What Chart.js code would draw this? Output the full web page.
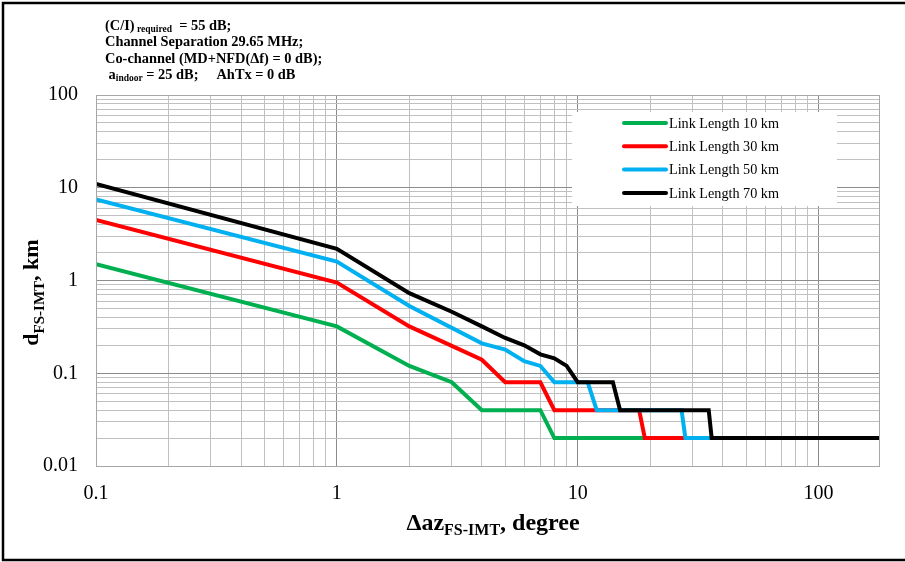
<!DOCTYPE html>
<html>
<head>
<meta charset="utf-8">
<script src="https://cdn.jsdelivr.net/npm/chart.js@4/dist/chart.umd.min.js"></script>
<style>
  html, body { margin: 0; padding: 0; background: #ffffff; }
  #wrap { width: 905px; height: 562px; position: relative; }
</style>
</head>
<body>
<div id="wrap"><canvas id="c" width="905" height="562"></canvas></div>
<script>
// ---- Data ----
const seriesLabels = ['Link Length 10 km', 'Link Length 30 km', 'Link Length 50 km', 'Link Length 70 km'];
const seriesColors = ['#00b050', '#ff0000', '#00b0f0', '#000000'];

const link10X = [0.1, 1, 2, 3, 4, 7, 8, 180];
const link10Y = [1.5, 0.32, 0.12, 0.08, 0.04, 0.04, 0.02, 0.02];

const link30X = [0.1, 1, 2, 4, 5, 7, 8, 18, 19, 180];
const link30Y = [4.5, 0.95, 0.32, 0.14, 0.08, 0.08, 0.04, 0.04, 0.02, 0.02];

const link50X = [0.1, 1, 2, 4, 5, 6, 7, 8, 11, 12, 27, 28, 180];
const link50Y = [7.5, 1.6, 0.53, 0.21, 0.18, 0.135, 0.12, 0.08, 0.08, 0.04, 0.04, 0.02, 0.02];

const link70X = [0.1, 1, 2, 3, 4, 5, 6, 7, 8, 9, 10, 14, 15, 35, 36, 180];
const link70Y = [11, 2.2, 0.73, 0.46, 0.32, 0.24, 0.2, 0.16, 0.145, 0.12, 0.08, 0.08, 0.04, 0.04, 0.02, 0.02];

const xTickLabels = ['0.1', '1', '10', '100'];
const xTickValues = [0.1, 1, 10, 100];
const yTickLabels = ['0.01', '0.1', '1', '10', '100'];
const yTickValues = [0.01, 0.1, 1, 10, 100];
const xMin = 0.1, xMax = 180, yMin = 0.01, yMax = 100;

const noteLines = [
  [{t: '(C/I)', s: 'n'}, {t: ' required', s: 'sub'}, {t: '  = 55 dB;', s: 'n'}],
  [{t: 'Channel Separation 29.65 MHz;', s: 'n'}],
  [{t: 'Co-channel (MD+NFD(\u0394f) = 0 dB);', s: 'n'}],
  [{t: ' a', s: 'n'}, {t: 'indoor', s: 'sub'}, {t: ' = 25 dB;     AhTx = 0 dB', s: 'n'}]
];
const xTitleParts = [{t: '\u0394az', s: 'n'}, {t: 'FS-IMT', s: 'sub'}, {t: ', degree', s: 'n'}];
const yTitleParts = [{t: 'd', s: 'n'}, {t: 'FS-IMT', s: 'sub'}, {t: ', km', s: 'n'}];

// ---- helpers ----
const SERIF = '"Liberation Serif", "Times New Roman", Times, serif';
function toPts(xs, ys) { return xs.map((x, i) => ({x: x, y: ys[i]})); }
function near(v, arr) { return arr.findIndex(a => Math.abs(Math.log10(v) - Math.log10(a)) < 1e-6); }
function buildLogTicks(min, maxDecadeValue) {
  const out = [];
  for (let d = min; d < maxDecadeValue * 0.999; d *= 10) {
    for (let m = 1; m <= 9; m++) out.push({value: +(m * d).toPrecision(6)});
  }
  out.push({value: maxDecadeValue});
  return out;
}

const xs = [link10X, link30X, link50X, link70X];
const ys = [link10Y, link30Y, link50Y, link70Y];
const datasets = seriesLabels.map((lab, i) => ({
  label: lab,
  data: toPts(xs[i], ys[i]),
  borderColor: seriesColors[i],
  backgroundColor: seriesColors[i],
  borderWidth: 4,
  pointRadius: 0,
  tension: 0,
  fill: false,
  order: 3 - i
}));

function drawRich(ctx, parts, x, y, mainFont, subFont, subDy, align) {
  let total = 0;
  const widths = parts.map(p => { ctx.font = p.s === 'sub' ? subFont : mainFont; const w = ctx.measureText(p.t).width; total += w; return w; });
  let cx = align === 'center' ? x - total / 2 : x;
  ctx.textAlign = 'left';
  ctx.textBaseline = 'alphabetic';
  parts.forEach((p, i) => {
    ctx.font = p.s === 'sub' ? subFont : mainFont;
    ctx.fillText(p.t, cx, p.s === 'sub' ? y + subDy : y);
    cx += widths[i];
  });
}

const decorPlugin = {
  id: 'decor',
  beforeDraw(chart) {
    const ctx = chart.ctx;
    ctx.save();
    ctx.fillStyle = '#ffffff';
    ctx.fillRect(0, 0, chart.width, chart.height);
    ctx.restore();
  },
  afterDatasetsDraw(chart) {
    const ctx = chart.ctx;
    const a = chart.chartArea;
    ctx.save();
    // plot frame
    ctx.strokeStyle = '#a6a6a6';
    ctx.lineWidth = 1;
    ctx.strokeRect(a.left + 0.5, a.top + 0.5, a.right - a.left - 1, a.bottom - a.top);

    // legend
    const bx = a.right - 308, by = a.top + 17, bw = 265, bh = 94;
    ctx.fillStyle = '#ffffff';
    ctx.fillRect(bx, by, bw, bh);
    ctx.font = '14.2px ' + SERIF;
    ctx.textBaseline = 'middle';
    ctx.textAlign = 'left';
    seriesLabels.forEach((lab, i) => {
      const ry = by + 11 + i * 23.3;
      ctx.strokeStyle = seriesColors[i];
      ctx.lineWidth = 4;
      ctx.lineCap = 'round';
      ctx.beginPath();
      ctx.moveTo(bx + 52, ry);
      ctx.lineTo(bx + 94, ry);
      ctx.stroke();
      ctx.fillStyle = '#000000';
      ctx.fillText(lab, bx + 97, ry + 1);
    });
    ctx.restore();
  },
  afterDraw(chart) {
    const ctx = chart.ctx;
    const a = chart.chartArea;
    ctx.save();
    ctx.fillStyle = '#000000';
    // annotation text
    const nb = [30, 46, 62.5, 79];
    noteLines.forEach((ln, i) => {
      drawRich(ctx, ln, 105, nb[i], 'bold 14.4px ' + SERIF, 'bold 9.5px ' + SERIF, 2, 'left');
    });
    // x title
    drawRich(ctx, xTitleParts, (a.left + a.right) / 2 + 5, 530, 'bold 24px ' + SERIF, 'bold 16px ' + SERIF, 5, 'center');
    // y title
    ctx.translate(38, (a.top + a.bottom) / 2 + 12);
    ctx.rotate(-Math.PI / 2);
    drawRich(ctx, yTitleParts, 0, 0, 'bold 22px ' + SERIF, 'bold 15px ' + SERIF, 6, 'center');
    ctx.restore();
    // outer border
    ctx.save();
    ctx.strokeStyle = '#000000';
    ctx.lineWidth = 2.5;
    ctx.strokeRect(3, 3, chart.width + 20, chart.height - 5);
    ctx.restore();
  }
};

const gridColor = (vals) => (c) => {
  if (!c.tick) return '#c0c0c0';
  return near(c.tick.value, vals) >= 0 ? '#8c8c8c' : '#c0c0c0';
};

new Chart(document.getElementById('c'), {
  type: 'line',
  data: { datasets: datasets },
  plugins: [decorPlugin],
  options: {
    responsive: false,
    devicePixelRatio: 1,
    animation: false,
    events: [],
    layout: { padding: { left: 0, top: 95, right: 25, bottom: 0 } },
    plugins: { legend: { display: false }, tooltip: { enabled: false }, title: { display: false } },
    scales: {
      x: {
        type: 'logarithmic',
        min: xMin, max: xMax,
        afterBuildTicks: (s) => { s.ticks = buildLogTicks(0.1, 100); },
        afterFit: (s) => { s.height = 96; },
        grid: { color: gridColor(xTickValues), lineWidth: 1, drawTicks: false },
        border: { display: false },
        ticks: {
          autoSkip: false, maxRotation: 0, padding: 16,
          color: '#000000',
          font: { family: SERIF, size: 20 },
          callback: (v) => { const k = near(v, xTickValues); return k >= 0 ? xTickLabels[k] : ''; }
        }
      },
      y: {
        type: 'logarithmic',
        min: yMin, max: yMax,
        afterBuildTicks: (s) => { s.ticks = buildLogTicks(0.01, 100); },
        afterFit: (s) => { s.width = 96; },
        grid: { color: gridColor(yTickValues), lineWidth: 1, drawTicks: false },
        border: { display: false },
        ticks: {
          autoSkip: false, padding: 18,
          color: '#000000',
          font: { family: SERIF, size: 20 },
          callback: (v) => { const k = near(v, yTickValues); return k >= 0 ? yTickLabels[k] : ''; }
        }
      }
    }
  }
});
</script>
</body>
</html>
